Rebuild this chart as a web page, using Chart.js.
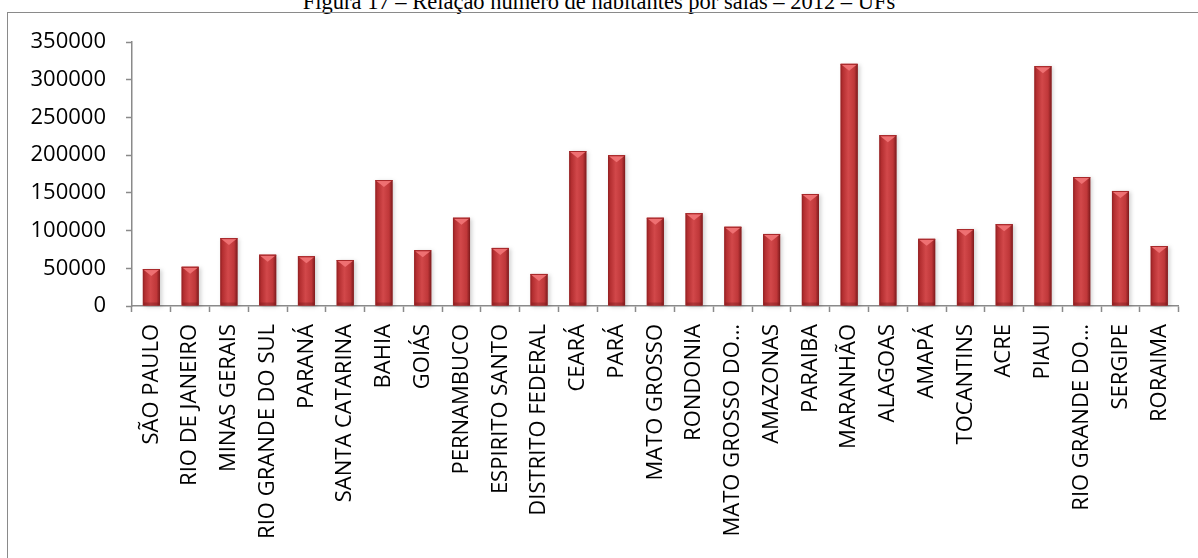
<!DOCTYPE html>
<html>
<head>
<meta charset="utf-8">
<title>Habitantes por sala - UFs</title>
<script src="https://cdn.jsdelivr.net/npm/chart.js@4.4.1/dist/chart.umd.min.js"></script>
<style>
  html, body { margin: 0; padding: 0; background: #fff; overflow: hidden; }
  #wrap { position: relative; width: 1198px; height: 558px; }
  #title {
    position: absolute; left: 0; top: -9px; width: 1198px;
    text-align: center; font-family: "Liberation Serif", "Times New Roman", serif;
    font-size: 22.5px; line-height: 22px; color: #000;
  }
  #frame {
    position: absolute; left: 7px; top: 12px; width: 1200px; height: 560px;
    border: 1.5px solid #8a8a8a; box-sizing: border-box;
  }
  #chart { position: absolute; left: 0; top: 0; }
</style>
</head>
<body>
<div id="wrap">
  <div id="title">Figura 17 – Relação número de habitantes por salas – 2012 – UFs</div>
  <div id="frame"></div>
  <canvas id="chart" width="1198" height="558"></canvas>
</div>
<script>
const states = [
  "SÃO PAULO", "RIO DE JANEIRO", "MINAS GERAIS", "RIO GRANDE DO SUL", "PARANÁ",
  "SANTA CATARINA", "BAHIA", "GOIÁS", "PERNAMBUCO", "ESPIRITO SANTO",
  "DISTRITO FEDERAL", "CEARÁ", "PARÁ", "MATO GROSSO", "RONDONIA",
  "MATO GROSSO DO…", "AMAZONAS", "PARAIBA", "MARANHÃO", "ALAGOAS",
  "AMAPÁ", "TOCANTINS", "ACRE", "PIAUI", "RIO GRANDE DO…",
  "SERGIPE", "RORAIMA"
];

const habitantsPerRoom = [
  49000, 52000, 90000, 68000, 66000,
  61000, 167000, 74000, 117000, 77000,
  42500, 205500, 200000, 117000, 123000,
  105000, 95500, 148500, 321000, 226500,
  89000, 102000, 108500, 318000, 171000,
  152500, 79500
];

const yTicks = [0, 50000, 100000, 150000, 200000, 250000, 300000, 350000];

const axisGray = "#8a8a8a";

// shading on top of the flat bars: side gradient + small bevel at the top
const barShading = {
  id: "barShading",
  afterDatasetsDraw(chart) {
    const ctx = chart.ctx;
    chart.getDatasetMeta(0).data.forEach((bar) => {
      const left = bar.x - bar.width / 2;
      const right = bar.x + bar.width / 2;
      const top = bar.y;
      const bottom = bar.base;

      ctx.save();
      ctx.shadowColor = "rgba(0,0,0,0.18)";
      ctx.shadowBlur = 4;
      ctx.shadowOffsetX = 2;
      ctx.shadowOffsetY = 1;
      const g = ctx.createLinearGradient(left, 0, right, 0);
      g.addColorStop(0, "#8f1f21");
      g.addColorStop(0.12, "#b32e30");
      g.addColorStop(0.45, "#d2484a");
      g.addColorStop(0.8, "#bf3739");
      g.addColorStop(1, "#7d1a1c");
      ctx.fillStyle = g;
      ctx.fillRect(left, top, right - left, bottom - top);
      ctx.restore();

      // bevel triangle
      ctx.save();
      ctx.beginPath();
      ctx.moveTo(left + 1, top + 1);
      ctx.lineTo(right - 1, top + 1);
      ctx.lineTo(bar.x, top + 7);
      ctx.closePath();
      ctx.fillStyle = "#ee7072";
      ctx.fill();
      ctx.fillStyle = "#a82a2c";
      ctx.fillRect(left, top, right - left, 1);
      // darker foot
      ctx.fillStyle = "rgba(110,20,22,0.35)";
      ctx.fillRect(left + 1, bottom - 3, right - left - 2, 3);
      ctx.restore();
    });
  }
};

new Chart(document.getElementById("chart"), {
  type: "bar",
  data: {
    labels: states,
    datasets: [
      {
        data: habitantsPerRoom,
        backgroundColor: "#c23a3c",
        borderWidth: 0,
        categoryPercentage: 1,
        barPercentage: 0.44
      }
    ]
  },
  options: {
    responsive: false,
    animation: false,
    layout: {
      padding: { top: 42, right: 19, left: 0, bottom: 0 }
    },
    plugins: {
      legend: { display: false },
      tooltip: { enabled: false }
    },
    scales: {
      x: {
        grid: {
          display: true,
          drawOnChartArea: false,
          offset: true,
          color: axisGray,
          tickLength: 6,
          tickWidth: 1.5
        },
        border: { color: axisGray, width: 1.5 },
        ticks: {
          minRotation: 90,
          maxRotation: 90,
          autoSkip: false,
          padding: 12,
          color: "#000",
          font: { family: "'Open Sans', sans-serif", size: 22 }
        },
        afterFit(scale) {
          scale.height = 252;
        }
      },
      y: {
        min: 0,
        max: 350000,
        afterBuildTicks(scale) {
          scale.ticks = yTicks.map((v) => ({ value: v }));
        },
        grid: {
          display: true,
          drawOnChartArea: false,
          color: axisGray,
          tickLength: 6,
          tickWidth: 1.5
        },
        border: { color: axisGray, width: 1.5 },
        ticks: {
          padding: 20,
          color: "#000",
          font: { family: "'Open Sans', sans-serif", size: 22 },
          callback: (v) => String(v)
        },
        afterFit(scale) {
          scale.width = 132;
        }
      }
    }
  },
  plugins: [barShading]
});
</script>
</body>
</html>
